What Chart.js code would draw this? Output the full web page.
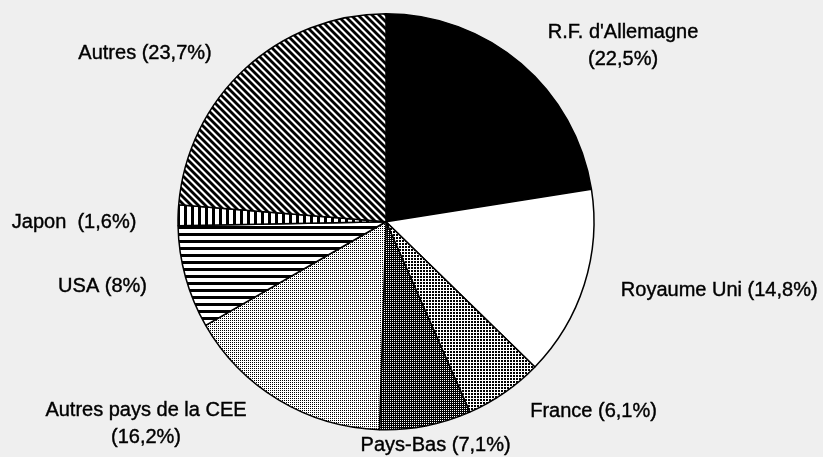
<!DOCTYPE html>
<html>
<head>
<meta charset="utf-8">
<script src="https://cdn.jsdelivr.net/npm/chart.js"></script>
<style>
  html, body { margin: 0; padding: 0; background: #efefef; }
  #wrap { width: 823px; height: 457px; position: relative; }
</style>
</head>
<body>
<div id="wrap"><canvas id="pie"></canvas></div>
<script>
// data, clockwise from 12 o'clock
const categories = [
  "R.F. d'Allemagne",
  "Royaume Uni",
  "France",
  "Pays-Bas",
  "Autres pays de la CEE",
  "USA",
  "Japon",
  "Autres",
];
const shares = [22.5, 14.8, 6.1, 7.1, 16.2, 8, 1.6, 23.7];
const labelLines = [
  ["R.F. d'Allemagne", "(22,5%)"],
  ["Royaume Uni (14,8%)"],
  ["France (6,1%)"],
  ["Pays-Bas (7,1%)"],
  ["Autres pays de la CEE", "(16,2%)"],
  ["USA (8%)"],
  ["Japon  (1,6%)"],
  ["Autres (23,7%)"],
];

// label nudges from the outer edge of each slice (first line centre)
const labelNudge = [
  [102, -31], [135, 6], [89, 19], [10, 20],
  [-133, 10], [-83, 9], [-104, 7], [-100, -15],
];

function tile(size, draw) {
  const c = document.createElement("canvas");
  c.width = size;
  c.height = size;
  const g = c.getContext("2d");
  draw(g, size);
  return g.createPattern(c, "repeat");
}

const ctx = document.getElementById("pie").getContext("2d");

const fills = {
  black: "#000",
  white: "#fff",
  // mid dotted
  dots: tile(3, (g) => {
    g.fillStyle = "#fff"; g.fillRect(0, 0, 3, 3);
    g.fillStyle = "#000"; g.fillRect(0, 0, 2, 2);
  }),
  // dark dotted
  darkDots: tile(2, (g) => {
    g.fillStyle = "#000"; g.fillRect(0, 0, 2, 2);
    g.fillStyle = "#fff"; g.fillRect(0, 0, 1, 1);
  }),
  // light stipple
  lightDots: tile(2, (g) => {
    g.fillStyle = "#fff"; g.fillRect(0, 0, 2, 2);
    g.fillStyle = "#000"; g.fillRect(0, 0, 1, 1);
  }),
  hStripes: tile(7, (g) => {
    g.fillStyle = "#fff"; g.fillRect(0, 0, 7, 7);
    g.fillStyle = "#000"; g.fillRect(0, 2, 7, 3);
  }),
  vStripes: tile(7, (g) => {
    g.fillStyle = "#fff"; g.fillRect(0, 0, 7, 7);
    g.fillStyle = "#000"; g.fillRect(2, 0, 3, 7);
  }),
  diag: tile(7, (g) => {
    g.fillStyle = "#fff"; g.fillRect(0, 0, 7, 7);
    g.strokeStyle = "#000"; g.lineWidth = 2.8;
    for (let k = -7; k <= 7; k += 7) {
      g.beginPath(); g.moveTo(k - 1, -1); g.lineTo(k + 8, 8); g.stroke();
    }
  }),
};

const sliceFills = [
  fills.black, fills.white, fills.dots, fills.darkDots,
  fills.lightDots, fills.hStripes, fills.vStripes, fills.diag,
];

const outsideLabels = {
  id: "outsideLabels",
  afterDatasetsDraw(chart) {
    const c = chart.ctx;
    const arcs = chart.getDatasetMeta(0).data;
    c.save();
    c.font = '20px "Liberation Sans", Arial, Helvetica, sans-serif';
    c.fillStyle = "#000";
    c.strokeStyle = "#000";
    c.lineWidth = 0.4;
    c.textAlign = "center";
    c.textBaseline = "middle";
    arcs.forEach((arc, i) => {
      const p = arc.getProps(["x", "y", "startAngle", "endAngle", "outerRadius"], true);
      const mid = (p.startAngle + p.endAngle) / 2;
      const ax = p.x + Math.cos(mid) * p.outerRadius + labelNudge[i][0];
      const ay = p.y + Math.sin(mid) * p.outerRadius + labelNudge[i][1];
      labelLines[i].forEach((line, j) => {
        c.fillText(line, ax, ay + j * 27);
        c.strokeText(line, ax, ay + j * 27);
      });
    });
    c.restore();
  },
};

new Chart(ctx, {
  type: "pie",
  data: {
    labels: categories,
    datasets: [
      {
        data: shares,
        backgroundColor: sliceFills,
        borderColor: "#000",
        borderWidth: 1.5,
        borderAlign: "center",
      },
    ],
  },
  options: {
    responsive: true,
    maintainAspectRatio: false,
    animation: false,
    layout: { padding: { top: 13, bottom: 26.5, left: 0, right: 51 } },
    plugins: {
      legend: { display: false },
      tooltip: { enabled: false },
    },
  },
  plugins: [outsideLabels],
});
</script>
</body>
</html>
